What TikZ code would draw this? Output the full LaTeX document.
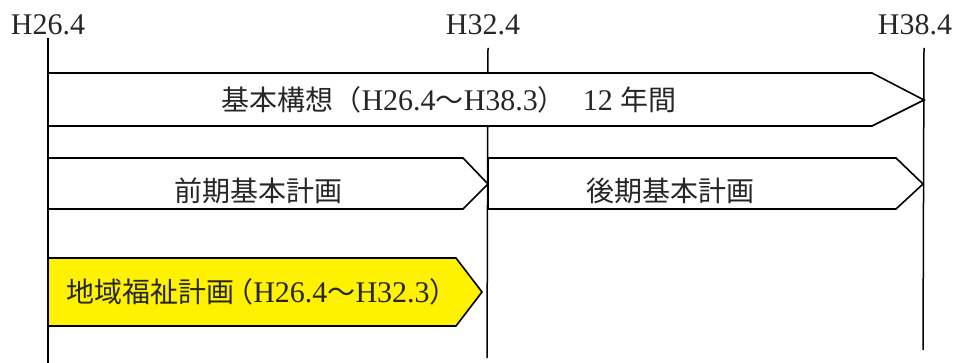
\documentclass[tikz,border=0pt]{standalone}
\usepackage{fontspec}
\setmainfont{Liberation Serif}
\newfontfamily\jpfont{Noto Sans CJK JP}
\newcommand\J[1]{{\fontsize{28}{32}\selectfont\jpfont #1}}
\begin{document}
\begin{tikzpicture}[x=1pt,y=-1pt,
  arr/.style={draw=black, line width=1.6pt, fill=white, line join=miter},
  vline/.style={draw=black, line width=1.5pt},
  lbl/.style={font=\fontsize{30}{34}\selectfont, inner sep=0pt, text=black!85}]
\useasboundingbox (0,0) rectangle (958,363);
% time marks
\node[lbl] (m1) at (48,25) {H26.4};
\node[lbl] (m2) at (483,25) {H32.4};
\node[lbl] (m3) at (915,25) {H38.4};
\coordinate (a1) at (48,38);  \coordinate (b1) at (48,363);
\coordinate (a2) at (488,48); \coordinate (b2) at (487,358);
\coordinate (a3) at (924,48); \coordinate (b3) at (923,350);
\draw[vline] (a1) -- (b1);
\draw[vline] (a2) -- (b2);
\draw[vline] (a3) -- (b3);
% arrows
\draw[arr] (48,73) -- (872,73) -- (924,100) -- (872,126) -- (48,126) -- cycle;
\draw[arr] (48,158) -- (463,158) -- (488,184) -- (463,209) -- (48,209) -- cycle;
\draw[arr] (488,158) -- (896,158) -- (923,184) -- (896,209) -- (488,209) -- cycle;
\draw[arr, fill=yellow] (48,258) -- (456,258) -- (482,292) -- (456,326) -- (48,326) -- cycle;
% labels
\node[lbl] (t1) at (449,100) {\J{基本構想（}H26.4\J{～}H38.3\J{）}\hspace{17pt}12 \J{年間}};
\node[lbl] (t2) at (258,191) {\J{前期基本計画}};
\node[lbl] (t3) at (670,191) {\J{後期基本計画}};
\node[lbl] (t4) at (262,292) {\J{地域福祉計画}\hspace{-9pt}\J{（}H26.4\J{～}H32.3\J{）}};
\end{tikzpicture}
\end{document}
